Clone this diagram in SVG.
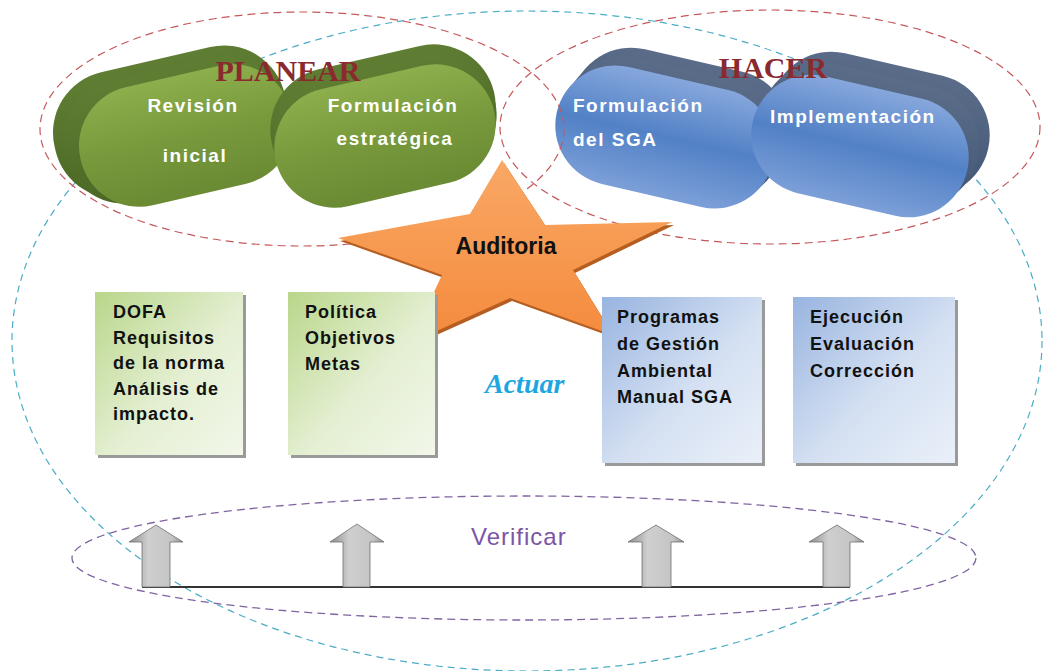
<svg xmlns="http://www.w3.org/2000/svg" width="1045" height="671" viewBox="0 0 1045 671">
  <defs>
    <style>
      .pill-txt { font-family: "Liberation Sans", Arial, sans-serif; font-weight: bold; font-size: 19px; fill: #ffffff; letter-spacing: 1.5px; }
      .phase { font-family: "Liberation Serif", "Times New Roman", serif; font-weight: bold; font-size: 30px; fill: #8b2a2e; }
      .box-txt { font-family: "Liberation Sans", Arial, sans-serif; font-weight: bold; font-size: 18px; fill: #111111; letter-spacing: 1px; }
      .dash-red { fill: none; stroke: #c5585a; stroke-width: 1.2; stroke-dasharray: 8 5; }
      .dash-cyan { fill: none; stroke: #4bacc6; stroke-width: 1.2; stroke-dasharray: 7 5; }
      .dash-purple { fill: none; stroke: #8064a2; stroke-width: 1.3; stroke-dasharray: 8 5; }
      .g-back { fill: url(#gBack); }
      .g-front { fill: url(#gFront); }
      .b-back { fill: url(#bBack); }
      .b-front { fill: url(#bFront); }
      .shadow { fill: #9a9a9a; }
      .arrow { fill: url(#arrowFill); stroke: #6e6e6e; stroke-width: 0.8; }
    </style>
    <linearGradient id="gBack" x1="0" y1="0" x2="0" y2="1">
      <stop offset="0" stop-color="#5f7e33"/>
      <stop offset="1" stop-color="#4a6624"/>
    </linearGradient>
    <linearGradient id="gFront" x1="0" y1="0" x2="0" y2="1">
      <stop offset="0" stop-color="#8cae4c"/>
      <stop offset="0.5" stop-color="#789a3c"/>
      <stop offset="1" stop-color="#6a8a33"/>
    </linearGradient>
    <linearGradient id="bBack" x1="0" y1="0" x2="0" y2="1">
      <stop offset="0" stop-color="#5a6c88"/>
      <stop offset="1" stop-color="#3f5472"/>
    </linearGradient>
    <linearGradient id="bFront" x1="0" y1="0" x2="0" y2="1">
      <stop offset="0" stop-color="#86a7dc"/>
      <stop offset="0.5" stop-color="#5281c6"/>
      <stop offset="1" stop-color="#7c9fd8"/>
    </linearGradient>
    <linearGradient id="greenBox" x1="0" y1="0" x2="1" y2="1">
      <stop offset="0" stop-color="#b9d68a"/>
      <stop offset="0.55" stop-color="#e4efd2"/>
      <stop offset="1" stop-color="#f2f7ea"/>
    </linearGradient>
    <linearGradient id="blueBox" x1="0" y1="0" x2="1" y2="1">
      <stop offset="0" stop-color="#98b4e0"/>
      <stop offset="0.55" stop-color="#d4e0f2"/>
      <stop offset="1" stop-color="#eaf0f9"/>
    </linearGradient>
    <linearGradient id="starFill" x1="0" y1="0" x2="0" y2="1">
      <stop offset="0" stop-color="#f9a865"/>
      <stop offset="1" stop-color="#f48a3c"/>
    </linearGradient>
    <linearGradient id="arrowFill" x1="0" y1="0" x2="1" y2="0">
      <stop offset="0" stop-color="#8c8c8c"/>
      <stop offset="0.35" stop-color="#cfcfcf"/>
      <stop offset="0.8" stop-color="#c4c4c4"/>
      <stop offset="1" stop-color="#8f8f8f"/>
    </linearGradient>
  </defs>

  <rect x="0" y="0" width="1045" height="671" fill="#ffffff"/>

  <!-- outer cycle (Actuar) -->
  <ellipse id="cycle-outline" class="dash-cyan" cx="527" cy="341" rx="515" ry="330"/>

  <!-- PLANEAR capsules -->
  <g id="pill-revision">
    <rect class="g-back" x="52" y="58" width="236" height="128" rx="62" transform="rotate(-13 170 122)"/>
    <rect class="g-back" x="62" y="67" width="226" height="124" rx="60" transform="rotate(-13 178 129)"/>
    <rect class="g-front" x="78" y="75" width="216" height="121" rx="60" transform="rotate(-13 186 136)"/>
    <text class="pill-txt" x="193" y="112" text-anchor="middle">Revisión</text>
    <text class="pill-txt" x="195" y="162" text-anchor="middle">inicial</text>
  </g>
  <g id="pill-formulacion-estrategica">
    <rect class="g-back" x="269" y="56" width="228" height="124" rx="62" transform="rotate(-13 383 118)"/>
    <rect class="g-back" x="272" y="66" width="226" height="122" rx="61" transform="rotate(-13 385 127)"/>
    <rect class="g-front" x="273" y="76" width="224" height="120" rx="60" transform="rotate(-13 385 136)"/>
    <text class="pill-txt" x="393" y="112" text-anchor="middle">Formulación</text>
    <text class="pill-txt" x="395" y="145" text-anchor="middle">estratégica</text>
  </g>

  <!-- HACER capsules -->
  <g id="pill-formulacion-sga">
    <rect class="b-back" x="569" y="59" width="222" height="122" rx="61" transform="rotate(13 680 120)"/>
    <rect class="b-back" x="562" y="68" width="222" height="121" rx="60" transform="rotate(13 673 128)"/>
    <rect class="b-front" x="554" y="77" width="222" height="120" rx="60" transform="rotate(13 665 137)"/>
    <text class="pill-txt" x="573" y="112">Formulación</text>
    <text class="pill-txt" x="573" y="146">del SGA</text>
  </g>
  <g id="pill-implementacion">
    <rect class="b-back" x="769" y="63" width="222" height="122" rx="61" transform="rotate(13 880 124)"/>
    <rect class="b-back" x="759" y="74" width="221" height="121" rx="60" transform="rotate(13 870 135)"/>
    <rect class="b-front" x="750" y="86" width="220" height="120" rx="60" transform="rotate(13 860 146)"/>
    <text class="pill-txt" x="770" y="123">Implementación</text>
  </g>

  <!-- phase groupings -->
  <ellipse id="planear-outline" class="dash-red" cx="302" cy="129" rx="262" ry="117"/>
  <ellipse id="hacer-outline" class="dash-red" cx="770" cy="127" rx="270" ry="117"/>
  <text id="planear-label" class="phase" x="288" y="81" text-anchor="middle">PLANEAR</text>
  <text id="hacer-label" class="phase" x="773" y="78" text-anchor="middle">HACER</text>

  <!-- Auditoria star -->
  <g id="auditoria">
    <polygon fill="#b65e22" transform="translate(2 3)" points="502,160 545,225 672,222 573,270 613,335 510,298 410,343 442,275 338,238 470,214"/>
    <polygon fill="url(#starFill)" points="502,160 545,225 672,222 573,270 613,335 510,298 410,343 442,275 338,238 470,214"/>
    <text x="506" y="254" text-anchor="middle" font-family="'Liberation Sans', Arial, sans-serif" font-weight="bold" font-size="23" fill="#111111">Auditoria</text>
  </g>

  <!-- task boxes -->
  <g id="box-dofa">
    <rect class="shadow" x="98" y="295" width="148" height="163"/>
    <rect x="95" y="292" width="148" height="163" fill="url(#greenBox)"/>
    <text class="box-txt" x="113" y="318">DOFA</text>
    <text class="box-txt" x="113" y="344">Requisitos</text>
    <text class="box-txt" x="113" y="369">de la norma</text>
    <text class="box-txt" x="113" y="395">Análisis de</text>
    <text class="box-txt" x="113" y="420">impacto.</text>
  </g>
  <g id="box-politica">
    <rect class="shadow" x="291" y="295" width="147" height="163"/>
    <rect x="288" y="292" width="147" height="163" fill="url(#greenBox)"/>
    <text class="box-txt" x="305" y="318">Política</text>
    <text class="box-txt" x="305" y="344">Objetivos</text>
    <text class="box-txt" x="305" y="370">Metas</text>
  </g>
  <g id="box-programas">
    <rect class="shadow" x="605" y="300" width="160" height="166"/>
    <rect x="602" y="297" width="160" height="166" fill="url(#blueBox)"/>
    <text class="box-txt" x="617" y="323">Programas</text>
    <text class="box-txt" x="617" y="350">de Gestión</text>
    <text class="box-txt" x="617" y="377">Ambiental</text>
    <text class="box-txt" x="617" y="403">Manual SGA</text>
  </g>
  <g id="box-ejecucion">
    <rect class="shadow" x="796" y="300" width="162" height="166"/>
    <rect x="793" y="297" width="162" height="166" fill="url(#blueBox)"/>
    <text class="box-txt" x="810" y="323">Ejecución</text>
    <text class="box-txt" x="810" y="350">Evaluación</text>
    <text class="box-txt" x="810" y="377">Corrección</text>
  </g>

  <text id="actuar-label" x="485" y="393" font-family="'Liberation Serif', 'Times New Roman', serif" font-style="italic" font-weight="bold" font-size="28" fill="#1ea6e0">Actuar</text>

  <!-- Verificar band -->
  <ellipse id="verificar-outline" class="dash-purple" cx="524" cy="558" rx="452" ry="62"/>
  <text id="verificar-label" x="471" y="545" font-family="'Liberation Sans', Arial, sans-serif" font-size="24" letter-spacing="1" fill="#7b55a5">Verificar</text>

  <g id="connectors">
    <line x1="142" y1="587" x2="850" y2="587" stroke="#333333" stroke-width="2"/>
    <polygon class="arrow" points="156,525 183,542 170,542 170,587 142,587 142,542 129,542"/>
    <polygon class="arrow" points="357,524 384,542 370,542 370,587 343,587 343,542 330,542"/>
    <polygon class="arrow" points="656,525 684,542 671,542 671,587 642,587 642,542 628,542"/>
    <polygon class="arrow" points="837,525 864,542 850,542 850,587 823,587 823,542 809,542"/>
  </g>
</svg>
